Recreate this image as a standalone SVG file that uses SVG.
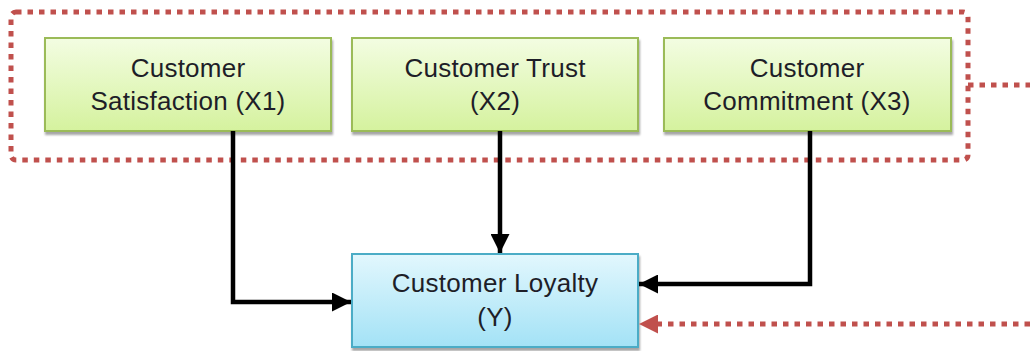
<svg xmlns="http://www.w3.org/2000/svg" width="1030" height="351" viewBox="0 0 1030 351">
  <style>
    .label { font-family: "Liberation Sans", Arial, sans-serif; font-size: 26px; letter-spacing: 0.25px; fill: #1e1e28; text-anchor: middle; }
    .xbox { fill: url(#gGreen); stroke: #9bbb59; stroke-width: 2; filter: url(#shadow); }
    .ybox { fill: url(#gBlue); stroke: #4bacc6; stroke-width: 2; filter: url(#shadow); }
    .flow { fill: none; stroke: #000; stroke-width: 4.5; }
    .dots { fill: none; stroke: #c0504d; stroke-width: 5; stroke-dasharray: 5.5 6; }
  </style>
  <defs>
    <linearGradient id="gGreen" x1="0" y1="0" x2="0" y2="1">
      <stop offset="0" stop-color="#f3fde2"/>
      <stop offset="1" stop-color="#d5f29e"/>
    </linearGradient>
    <linearGradient id="gBlue" x1="0" y1="0" x2="0" y2="1">
      <stop offset="0" stop-color="#e2f7fd"/>
      <stop offset="1" stop-color="#a3e2f6"/>
    </linearGradient>
    <filter id="shadow" x="-5%" y="-10%" width="115%" height="130%">
      <feDropShadow dx="1" dy="3" stdDeviation="1.2" flood-color="#000" flood-opacity="0.35"/>
    </filter>
    <marker id="arrowBlack" viewBox="0 0 10 10" refX="10" refY="5" markerUnits="userSpaceOnUse" markerWidth="19" markerHeight="19" orient="auto">
      <path d="M0,0 L10,5 L0,10 Z" fill="#000"/>
    </marker>
    <marker id="arrowRed" viewBox="0 0 10 10" refX="10" refY="5" markerUnits="userSpaceOnUse" markerWidth="19" markerHeight="19" orient="auto">
      <path d="M0,0 L10,5 L0,10 Z" fill="#c0504d"/>
    </marker>
  </defs>

  <!-- grouping frame around the three independent variables -->
  <g id="frame">
    <rect class="dots" x="11" y="12" width="957" height="148" rx="5" ry="5"/>
  </g>

  <g id="x1">
    <rect class="xbox" x="45" y="38" width="286" height="93"/>
    <text class="label" x="188" y="77">Customer</text>
    <text class="label" x="188" y="110">Satisfaction (X1)</text>
  </g>

  <g id="x2">
    <rect class="xbox" x="352" y="38" width="286" height="93"/>
    <text class="label" x="495" y="77">Customer Trust</text>
    <text class="label" x="495" y="110">(X2)</text>
  </g>

  <g id="x3">
    <rect class="xbox" x="664" y="38" width="287" height="93"/>
    <text class="label" x="807" y="77">Customer</text>
    <text class="label" x="807" y="110">Commitment (X3)</text>
  </g>

  <g id="y">
    <rect class="ybox" x="352" y="254" width="286" height="93"/>
    <text class="label" x="495" y="292">Customer Loyalty</text>
    <text class="label" x="495" y="326">(Y)</text>
  </g>

  <g id="connectors">
    <path class="flow" d="M233,131 V302 H351" marker-end="url(#arrowBlack)"/>
    <path class="flow" d="M500,131 V253" marker-end="url(#arrowBlack)"/>
    <path class="flow" d="M810,131 V284 H639" marker-end="url(#arrowBlack)"/>
    <path class="dots" d="M968,85 H1030"/>
    <path class="dots" d="M1030,324 H639" marker-end="url(#arrowRed)"/>
  </g>
</svg>
